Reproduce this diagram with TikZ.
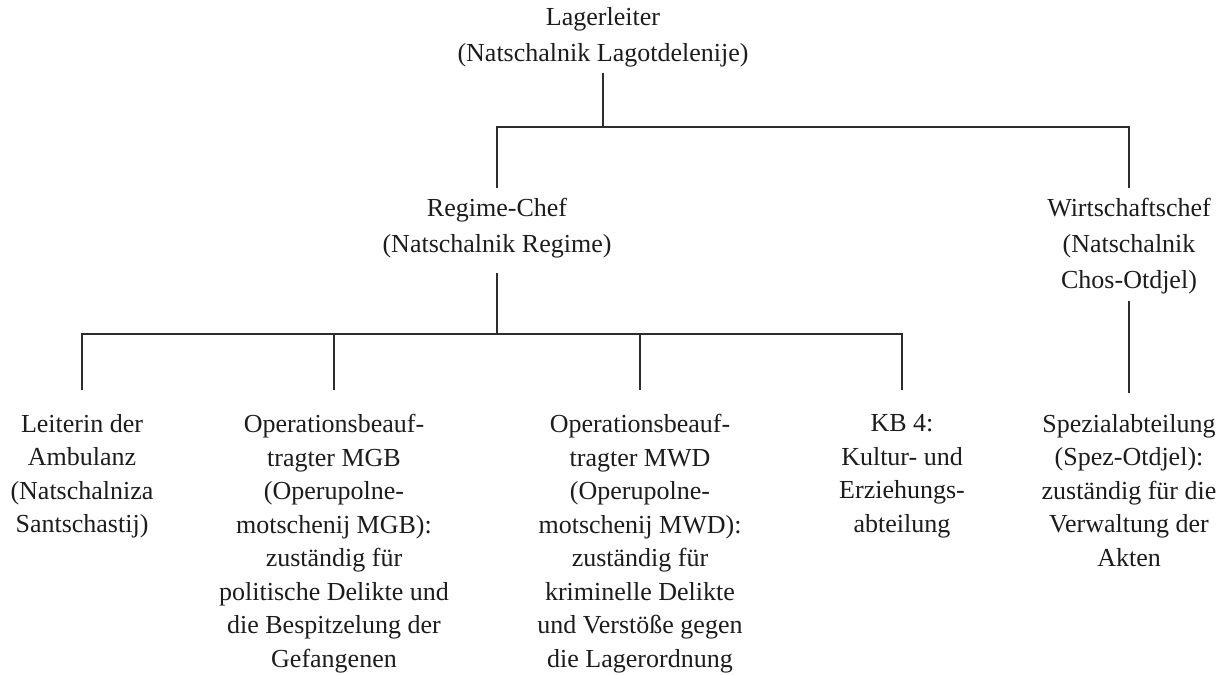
\documentclass[tikz,border=0pt]{standalone}
\usepackage{fontspec}
\setmainfont{Liberation Serif}
\usepackage{xcolor}
\usetikzlibrary{positioning}

\begin{document}
\begin{tikzpicture}[x=0.5pt, y=-0.5pt,
            post/.style={align=center, inner sep=0pt, anchor=north, text={rgb,255:red,28;green,28;blue,28}, font=\fontsize{13}{16.75}\selectfont},
            head/.style={post, font=\fontsize{13}{18}\selectfont},
            link/.style={draw={rgb,255:red,45;green,45;blue,45}, line width=1pt}]
            \useasboundingbox (0,0) rectangle (1218,675);
            \node [head] (leiter) at (603,7) {Lagerleiter\\(Natschalnik Lagotdelenije)};
            \node [head] (regime) at (497,198) {Regime-Chef\\(Natschalnik Regime)};
            \node [head] (wirt) at (1129,198) {Wirtschaftschef\\(Natschalnik\\Chos-Otdjel)};
            \node [post] (ambulanz) at (82,414) {Leiterin der\\Ambulanz\\(Natschalniza\\Santschastij)};
            \node [post] (mgb) at (334,414) {Operationsbeauf-\\tragter MGB\\(Operupolne-\\motschenij MGB):\\zuständig für\\politische Delikte und\\die Bespitzelung der\\Gefangenen};
            \node [post] (mwd) at (640,414) {Operationsbeauf-\\tragter MWD\\(Operupolne-\\motschenij MWD):\\zuständig für\\kriminelle Delikte\\und Verstöße gegen\\die Lagerordnung};
            \node [post] (kultur) at (902,414) {KB 4:\\Kultur- und\\Erziehungs-\\abteilung};
            \node [post] (spezial) at (1129,414) {Spezialabteilung\\(Spez-Otdjel):\\zuständig für die\\Verwaltung der\\Akten};
            \coordinate (topjoin) at (603,127);
            \coordinate (midjoin) at (497,334);
            \draw [link, shorten <=3pt] (leiter) -- (topjoin);
            \draw [link, shorten <=5pt, shorten >=5pt] (regime) |- (topjoin) -| (wirt);
            \draw [link, shorten <=7pt] (regime) -- (midjoin);
            \draw [link, shorten <=12pt, shorten >=12pt] (ambulanz) |- (midjoin) -| (kultur);
            \draw [link, shorten >=12pt] (midjoin -| mgb) -- (mgb);
            \draw [link, shorten >=12pt] (midjoin -| mwd) -- (mwd);
            \draw [link, shorten <=3pt, shorten >=10.5pt] (wirt) -- (spezial);
        \end{tikzpicture}
\end{document}
